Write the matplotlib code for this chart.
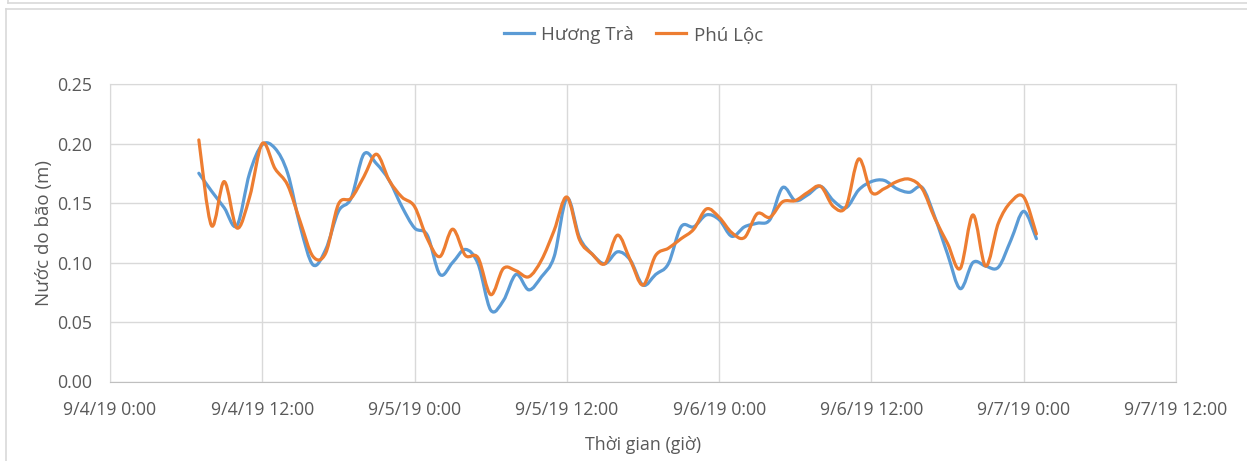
import numpy as np
import pandas as pd
import matplotlib
matplotlib.use("Agg")
import matplotlib.pyplot as plt
import matplotlib.dates as mdates
from matplotlib.path import Path
from matplotlib.patches import PathPatch
from matplotlib.lines import Line2D

plt.rcParams['font.family'] = ['Open Sans', 'DejaVu Sans']

# hourly readings, 9/4/19 7:00 -> 9/7/19 1:00
times = pd.date_range("2019-09-04 07:00", "2019-09-07 01:00", freq="h")

huong_tra = [0.175, 0.160, 0.146, 0.131, 0.175, 0.199, 0.196, 0.175, 0.130, 0.098,
             0.111, 0.143, 0.154, 0.191, 0.183, 0.169, 0.147, 0.129, 0.123, 0.090,
             0.100, 0.111, 0.099, 0.060, 0.068, 0.090, 0.077, 0.088, 0.105, 0.154,
             0.121, 0.107, 0.099, 0.109, 0.102, 0.081, 0.090, 0.099, 0.130, 0.130,
             0.140, 0.136, 0.122, 0.130, 0.133, 0.136, 0.163, 0.152, 0.157, 0.164,
             0.152, 0.146, 0.161, 0.168, 0.169, 0.162, 0.159, 0.163, 0.138, 0.107,
             0.078, 0.100, 0.097, 0.096, 0.119, 0.143, 0.120]

phu_loc = [0.203, 0.131, 0.168, 0.129, 0.155, 0.200, 0.179, 0.165, 0.134, 0.105,
           0.108, 0.149, 0.154, 0.172, 0.191, 0.169, 0.155, 0.147, 0.120, 0.105,
           0.128, 0.106, 0.104, 0.073, 0.095, 0.093, 0.088, 0.102, 0.127, 0.155,
           0.119, 0.107, 0.099, 0.123, 0.102, 0.081, 0.106, 0.112, 0.120, 0.128,
           0.145, 0.138, 0.125, 0.121, 0.141, 0.138, 0.151, 0.152, 0.159, 0.164,
           0.147, 0.147, 0.187, 0.159, 0.162, 0.168, 0.170, 0.162, 0.137, 0.116,
           0.095, 0.140, 0.097, 0.133, 0.151, 0.155, 0.124]

series = [("Hương Trà", huong_tra, "#5B9BD5"), ("Phú Lộc", phu_loc, "#ED7D31")]


def smooth_path(x, y):
    # excel-style smoothed line: bezier segments through every point
    x = np.asarray(x, float)
    y = np.asarray(y, float)
    n = len(x)
    verts = [(x[0], y[0])]
    codes = [Path.MOVETO]
    for i in range(n - 1):
        i0 = max(i - 1, 0)
        i3 = min(i + 2, n - 1)
        c1 = (x[i] + (x[i + 1] - x[i0]) / 6, y[i] + (y[i + 1] - y[i0]) / 6)
        c2 = (x[i + 1] - (x[i3] - x[i]) / 6, y[i + 1] - (y[i3] - y[i]) / 6)
        verts += [c1, c2, (x[i + 1], y[i + 1])]
        codes += [Path.CURVE4] * 3
    return Path(verts, codes)


fig = plt.figure(figsize=(12.47, 4.61), dpi=100)
ax = fig.add_axes([110 / 1247, 1 - 381.5 / 461, (1176 - 110) / 1247, (381.5 - 84) / 461])

xnum = mdates.date2num(times.to_pydatetime())
handles = []
for name, vals, col in series:
    patch = PathPatch(smooth_path(xnum, vals), facecolor="none", edgecolor=col,
                      lw=2.3, capstyle="round", joinstyle="round")
    ax.add_patch(patch)
    handles.append(Line2D([], [], color=col, lw=2.3, label=name))

ax.set_xlim(mdates.date2num(pd.Timestamp("2019-09-04 00:00")),
            mdates.date2num(pd.Timestamp("2019-09-07 12:00")))
ax.set_ylim(0, 0.25)
ax.set_yticks(np.arange(0, 0.251, 0.05))
ax.yaxis.set_major_formatter(matplotlib.ticker.FormatStrFormatter("%.2f"))

xt = pd.date_range("2019-09-04 00:00", "2019-09-07 12:00", freq="12h")
ax.set_xticks(mdates.date2num(xt.to_pydatetime()))
ax.set_xticklabels([f"{t.month}/{t.day}/{t.strftime('%y')} {t.hour}:00" for t in xt])

ax.grid(True, color="#d9d9d9", lw=1)
ax.set_axisbelow(True)
for s in ["top", "right", "left"]:
    ax.spines[s].set_color("#d9d9d9")
ax.spines["bottom"].set_color("#bfbfbf")
ax.tick_params(length=0, labelsize=12.8, colors="#595959")
ax.tick_params(axis="x", pad=14)
ax.tick_params(axis="y", pad=13)

ax.set_ylabel("Nước do bão (m)", fontsize=13.5, color="#595959", labelpad=3)
ax.set_xlabel("Thời gian (giờ)", fontsize=12.8, color="#595959", labelpad=12)

fig.legend(handles=handles, loc="center", bbox_to_anchor=(0.508, 1 - 35 / 461),
           ncol=2, frameon=False, fontsize=13.5, handlelength=1.6, handletextpad=0.4,
           columnspacing=1.2, labelcolor="#595959")

# outer chart frame
fig.add_artist(Line2D([5.5 / 1247, 5.5 / 1247], [0, 1 - 9.5 / 461], color="#d9d9d9", lw=1.2))
fig.add_artist(Line2D([5.5 / 1247, 1], [1 - 9.5 / 461, 1 - 9.5 / 461], color="#d9d9d9", lw=1.2))
fig.add_artist(Line2D([8 / 1247, 1], [1 - 3 / 461, 1 - 3 / 461], color="#d9d9d9", lw=1.2))
fig.add_artist(Line2D([8 / 1247, 8 / 1247], [1 - 3 / 461, 1], color="#d9d9d9", lw=1.2))

fig.savefig("out.png", dpi=100)
